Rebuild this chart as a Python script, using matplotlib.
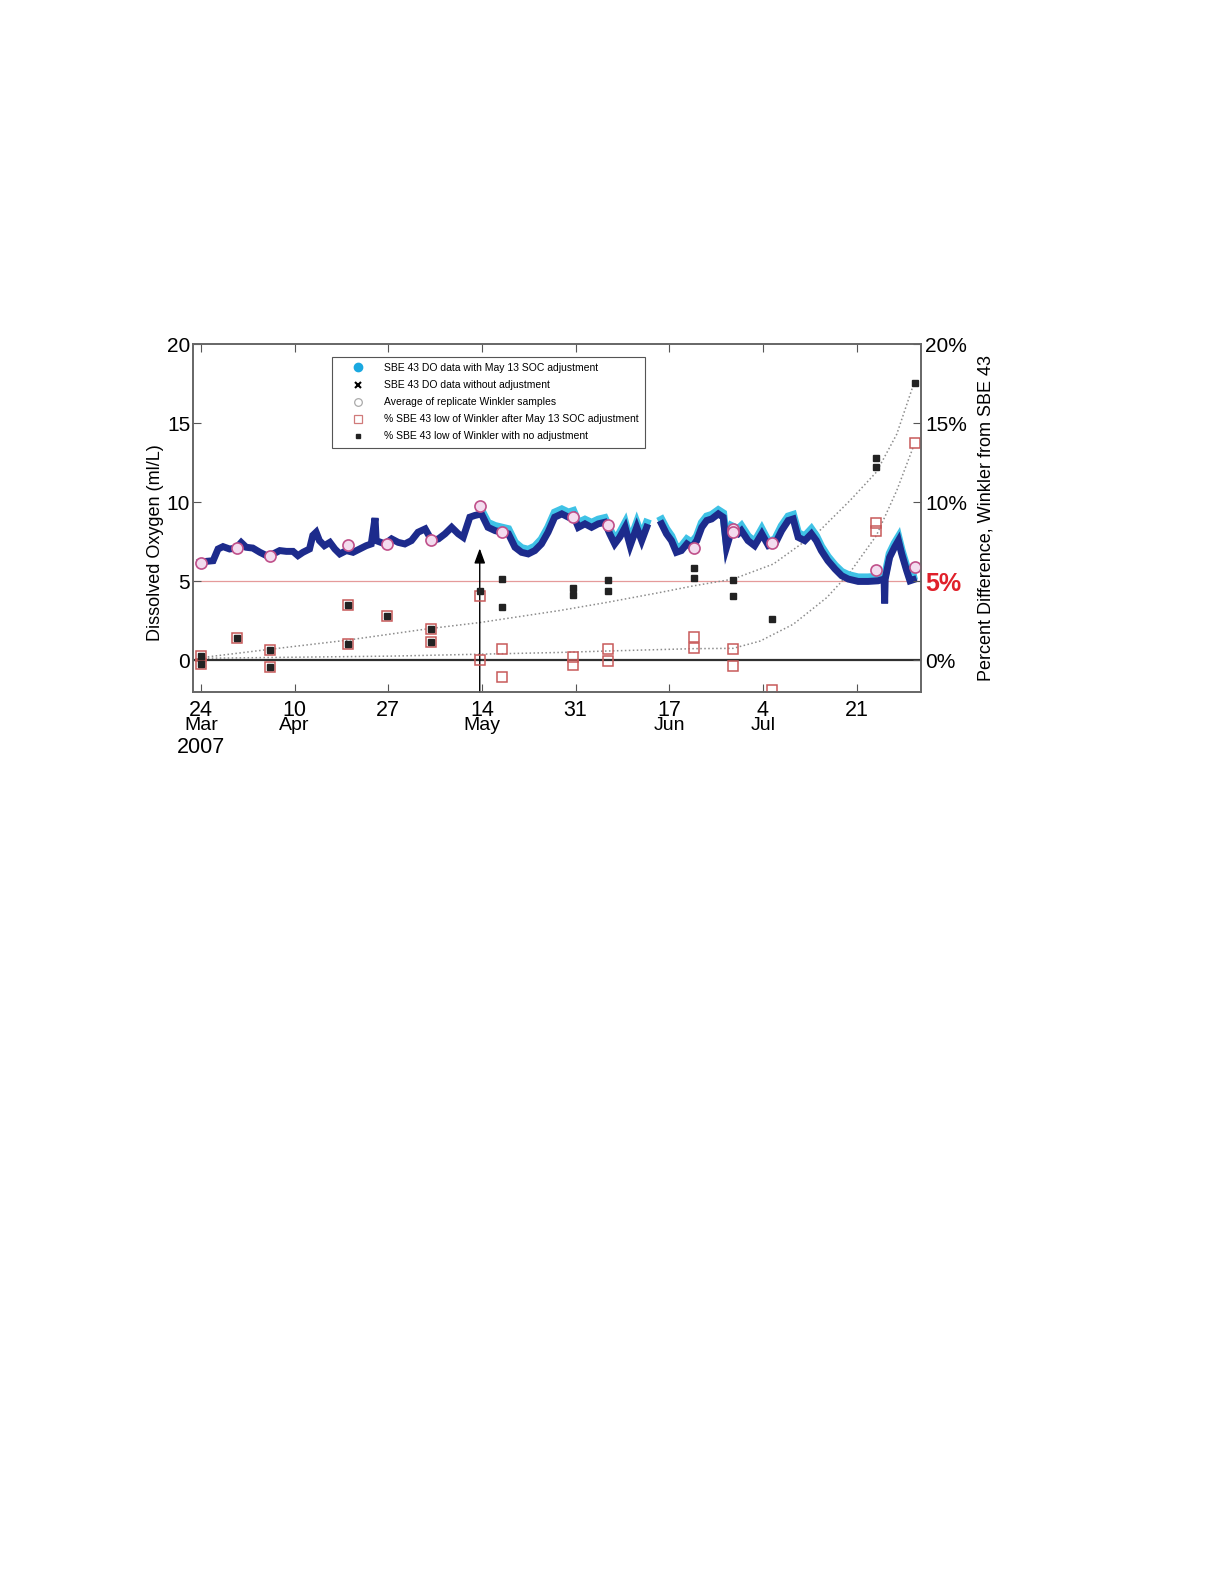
import numpy as np
import matplotlib
matplotlib.use('Agg')
import matplotlib.pyplot as plt
from matplotlib.lines import Line2D
import matplotlib.transforms as mtrans

plt.rcParams['font.family'] = ['Liberation Sans', 'DejaVu Sans']

# ---------------- data (x = days since 24 Mar 2007) ----------------
tick_days = [0, 17, 34, 51, 68, 85, 102, 119]
tick_labels = ['24', '10', '27', '14', '31', '17', '4', '21']
month_days = [0, 17, 51, 85, 102]
month_labels = ['Mar', 'Apr', 'May', 'Jun', 'Jul']
year_label = '2007'

# SBE 43 DO data without adjustment (ml/L); None = data gap
do_day = [-0.2, 1.0, 2.2, 3.1, 4.0, 5.2, 6.4, 7.3, 8.2, 9.4, 10.7, 11.9, 13.1, 14.3, 15.5,
          16.7, 17.6, 18.5, 19.7, 20.3, 20.9, 21.5, 22.4, 23.4, 24.3, 25.2, 26.4, 27.6,
          28.8, 30.0, 30.9, 31.6, 31.8, 33.4, 34.6, 35.8, 37.0, 38.2, 39.4, 40.7, 41.9,
          43.1, 44.3, 45.5, 46.7, 47.6, 48.8, 49.7, 50.9, 52.1, 53.4, 54.6, 55.8, 57.0,
          58.2, 59.4, 60.6, 61.8, 63.0, 64.2, 65.5, 66.7, 67.6, 68.5, 69.7, 70.9, 72.1,
          73.3, 74.2, 75.1, 76.0, 77.0, 77.9, 79.1, 80.0, 80.9, 82.0, 83.6, 84.5, 85.4,
          86.3, 87.2, 88.2, 89.1, 90.0, 90.9, 91.8, 92.7, 93.9, 94.8, 95.4, 96.3, 97.5,
          98.1, 99.3, 100.5, 101.8, 103.0, 104.2, 105.4, 106.6, 107.5, 108.4, 109.6,
          110.8, 111.7, 112.6, 113.8, 115.1, 116.3, 117.5, 119.3, 121.1, 122.9, 124.0,
          124.1, 124.2, 125.0, 125.9, 126.6, 127.2, 128.1, 128.7, 129.3]
do_val = [6.19, 6.26, 6.30, 7.04, 7.19, 7.04, 7.10, 7.45, 7.15, 7.10, 6.83, 6.62, 6.73, 6.94, 6.89,
          6.89, 6.62, 6.83, 7.04, 7.90, 8.10, 7.57, 7.25, 7.46, 7.04, 6.73, 6.94, 6.83,
          7.04, 7.25, 7.36, 9.00, 7.57, 7.36, 7.68, 7.46, 7.36, 7.57, 8.10, 8.31, 7.57,
          7.68, 8.00, 8.41, 8.00, 7.78, 9.05, 9.16, 9.26, 8.41, 8.20, 8.10, 8.00, 7.15,
          6.83, 6.73, 6.94, 7.36, 8.10, 9.05, 9.26, 9.05, 9.16, 8.41, 8.63, 8.41, 8.63,
          8.73, 8.00, 7.36, 7.78, 8.41, 7.25, 8.41, 7.57, 8.41, None, 8.63, 8.00, 7.57,
          6.83, 6.94, 7.36, 7.15, 7.57, 8.41, 8.84, 8.94, 9.26, 9.05, 7.15, 8.20, 8.00,
          8.20, 7.57, 7.25, 8.00, 7.25, 7.36, 8.20, 8.84, 8.94, 7.78, 7.57,
          8.00, 7.57, 6.94, 6.30, 5.77, 5.35, 5.14, 4.99, 4.99, 5.03, 5.14,
          3.60, 5.14, 6.51, 7.15, 7.57, 6.73, 5.67, 5.03, 5.10]

# SBE 43 DO data with May 13 SOC adjustment (ml/L), from May 14 onwards
adj_day = [50.9, 52.1, 53.4, 54.6, 55.8, 57.0, 58.2, 59.4, 60.6, 61.8, 63.0, 64.2, 65.5, 66.7,
           67.6, 68.5, 69.7, 70.9, 72.1, 73.3, 74.2, 75.1, 76.0, 77.0, 77.9, 79.1, 80.0, 80.9,
           82.0, 83.6, 84.5, 85.4, 86.3, 87.2, 88.2, 89.1, 90.0, 90.9, 91.8, 92.7, 93.9, 94.8,
           95.4, 96.3, 97.5, 98.1, 99.3, 100.5, 101.8, 103.0, 104.2, 105.4, 106.6, 107.5, 108.4,
           109.6, 110.8, 111.7, 112.6, 113.8, 115.1, 116.3, 117.5, 119.3, 121.1, 122.9, 124.0,
           124.2, 125.0, 125.9, 126.6, 127.2, 128.1, 128.7, 129.3]
adj_val = [9.50, 8.70, 8.50, 8.40, 8.30, 7.45, 7.10, 7.00, 7.20, 7.65, 8.40, 9.35, 9.55, 9.35,
           9.45, 8.70, 8.90, 8.70, 8.90, 9.00, 8.30, 7.65, 8.05, 8.70, 7.55, 8.70, 7.85, 8.70,
           None, 8.90, 8.30, 7.85, 7.10, 7.20, 7.65, 7.45, 7.85, 8.70, 9.10, 9.20, 9.50, 9.30,
           7.45, 8.50, 8.30, 8.50, 7.85, 7.50, 8.30, 7.50, 7.65, 8.50, 9.10, 9.20, 8.05,
           7.85, 8.30, 7.85, 7.20, 6.55, 6.00, 5.60, 5.40, 5.25, 5.25, 5.30, 5.40,
           5.40, 6.75, 7.40, 7.80, 6.95, 5.90, 5.25, 5.30]

# Average of replicate Winkler samples (ml/L)
wink_day = [0, 6.6, 12.6, 26.7, 33.7, 41.7, 50.6, 54.7, 67.6, 73.8, 89.5, 96.6, 96.6, 103.7, 122.6, 129.6]
wink_val = [6.15, 7.08, 6.62, 7.30, 7.36, 7.63, 9.79, 8.10, 9.09, 8.56, 7.08, 8.30, 8.10, 7.40, 5.73, 5.88]

# % SBE 43 low of Winkler, no adjustment
pct_raw_day = [0, 0, 6.6, 12.6, 12.6, 26.7, 26.7, 33.7, 41.7, 41.7, 50.6, 54.7, 54.7, 67.6, 67.6,
               73.8, 73.8, 89.5, 89.5, 96.6, 96.6, 103.7, 122.6, 122.6, 129.6]
pct_raw_val = [0.25, -0.25, 1.44, 0.65, -0.40, 3.51, 1.01, 2.79, 2.01, 1.16, 4.40, 5.14, 3.38, 4.57, 4.12,
               5.10, 4.40, 5.84, 5.18, 5.10, 4.06, 2.64, 12.82, 12.22, 17.51]

# % SBE 43 low of Winkler, after May 13 SOC adjustment
pct_adj_day = [0, 0, 6.6, 12.6, 12.6, 26.7, 26.7, 33.7, 41.7, 41.7, 50.6, 50.6, 54.7, 54.7, 67.6, 67.6,
               73.8, 73.8, 89.5, 89.5, 96.6, 96.6, 103.7, 122.6, 122.6, 129.6]
pct_adj_val = [0.25, -0.25, 1.44, 0.65, -0.40, 3.51, 1.01, 2.79, 2.01, 1.16, 4.05, 0.0, 0.74, -1.06, 0.21, -0.32,
               0.74, -0.04, 1.50, 0.80, 0.74, -0.36, -1.88, 8.67, 8.16, 13.71]

# dotted trend curves (%)
fit_raw_day = [-0.2, 12.5, 26.4, 41.5, 50.6, 65.1, 73.6, 83.3, 89.4, 96.6, 103.9, 112.3, 117.8, 122.6, 126.3, 129.3]
fit_raw_val = [0.16, 0.70, 1.27, 2.01, 2.39, 3.15, 3.66, 4.29, 4.71, 5.14, 6.09, 8.20, 10.10, 11.90, 14.30, 17.40]
fit_adj_day = [-0.2, 34.8, 65.1, 73.6, 89.4, 96.6, 101.5, 107.5, 113.6, 117.8, 122.6, 126.3, 129.3]
fit_adj_val = [0.13, 0.27, 0.50, 0.59, 0.74, 0.76, 1.22, 2.28, 3.97, 5.56, 7.89, 10.74, 13.49]

arrow_day = 50.6
arrow_top = 7.08

legend_labels = ['SBE 43 DO data with May 13 SOC adjustment',
                 'SBE 43 DO data without adjustment',
                 'Average of replicate Winkler samples',
                 '% SBE 43 low of Winkler after May 13 SOC adjustment',
                 '% SBE 43 low of Winkler with no adjustment']
right_ticks = [0, 5, 10, 15, 20]
right_labels = ['0%', '5%', '10%', '15%', '20%']

# ---------------- figure ----------------
W, H = 1224, 1584
fig = plt.figure(figsize=(W / 100, H / 100), dpi=100)
ax = fig.add_axes([193 / W, 1 - 692 / H, 728 / W, 348 / H])

def arr(v):
    return np.array([np.nan if x is None else x for x in v], dtype=float)

navy = '#1d2b8c'
cyan = '#3fc2e6'

ax.axhline(5, color='#e59a9a', lw=0.9, zorder=1)
ax.axhline(0, color='#303030', lw=1.6, zorder=2)

ax.plot(fit_raw_day, fit_raw_val, ls=(0, (1, 1.6)), color='#8c8c8c', lw=1.1, zorder=2)
ax.plot(fit_adj_day, fit_adj_val, ls=(0, (1, 1.6)), color='#8c8c8c', lw=1.1, zorder=2)

ax.plot(adj_day, arr(adj_val), color=cyan, lw=5.6, zorder=3, solid_joinstyle='miter')
ax.plot(do_day, arr(do_val), color=navy, lw=5.0, zorder=4, solid_joinstyle='miter')

ax.annotate('', xy=(arrow_day, arrow_top), xytext=(arrow_day, -2),
            arrowprops=dict(arrowstyle='-|>,head_length=0.6,head_width=0.22',
                            color='black', lw=1.0, mutation_scale=15, shrinkA=0, shrinkB=0),
            zorder=5)

ax.plot(pct_adj_day, pct_adj_val, 's', ls='none', ms=7, mfc='none', mec='#c85a5a', mew=1.1, zorder=6)
ax.plot(pct_raw_day, pct_raw_val, 's', ls='none', ms=5, color='#222222', zorder=7)
ax.plot(wink_day, wink_val, 'o', ls='none', ms=8, mfc='#f3dcef', mec='#c0508a', mew=1.2, zorder=8)

ax.set_xlim(-1.45, 130.7)
ax.set_ylim(-2, 20)
ax.set_xticks(tick_days)
ax.set_xticklabels(tick_labels)
ax.set_yticks([0, 5, 10, 15, 20])
ax.tick_params(axis='x', direction='in', length=6, top=True, labelsize=15.5, pad=6, color='#555555')
ax.tick_params(axis='y', direction='in', length=6, labelsize=15, pad=2, color='#555555')
ax.minorticks_off()

trans = mtrans.blended_transform_factory(ax.transData, ax.transAxes)
for d, m in zip(month_days, month_labels):
    ax.text(d, -0.073, m, transform=trans, ha='center', va='top', fontsize=14)
ax.text(month_days[0], -0.128, year_label, transform=trans, ha='center', va='top', fontsize=15.5)

ax2 = ax.twinx()
ax2.set_ylim(-2, 20)
ax2.set_yticks(right_ticks)
ax2.set_yticklabels(right_labels)
ax2.tick_params(axis='y', direction='in', length=6, labelsize=15, pad=3, color='#555555')
for lab in ax2.get_yticklabels():
    if lab.get_text() == '5%':
        lab.set_color('#e0202a')
        lab.set_fontweight('bold')
        lab.set_fontsize(18)

for a in (ax, ax2):
    for s in a.spines.values():
        s.set_color('#666666')
        s.set_linewidth(1.2)

fig.text(156 / W, 1 - 543 / H, 'Dissolved Oxygen (ml/L)', rotation=90,
         ha='center', va='center', fontsize=13)
fig.text(986 / W, 1 - 518 / H, 'Percent Difference, Winkler from SBE 43', rotation=90,
         ha='center', va='center', fontsize=13)

handles = [
    Line2D([], [], marker='o', ls='none', ms=6, mfc='#1aa8e0', mec='#1aa8e0'),
    Line2D([], [], marker='x', ls='none', ms=5, color='black', mew=1.5),
    Line2D([], [], marker='o', ls='none', ms=5.5, mfc='white', mec='#aaaaaa', mew=0.9),
    Line2D([], [], marker='s', ls='none', ms=5.5, mfc='white', mec='#d07a7a', mew=0.9),
    Line2D([], [], marker='s', ls='none', ms=3.5, color='#222222'),
]
leg = ax.legend(handles, legend_labels, loc='upper left', bbox_to_anchor=(0.191, 0.963),
                fontsize=7.5, borderpad=0.6, handlelength=3.8, handletextpad=0.6,
                labelspacing=0.68, borderaxespad=0, fancybox=False, framealpha=1)
leg.get_frame().set_edgecolor('#555555')
leg.get_frame().set_linewidth(0.8)
leg.set_zorder(20)

fig.savefig('out.png', dpi=100, facecolor='white')
